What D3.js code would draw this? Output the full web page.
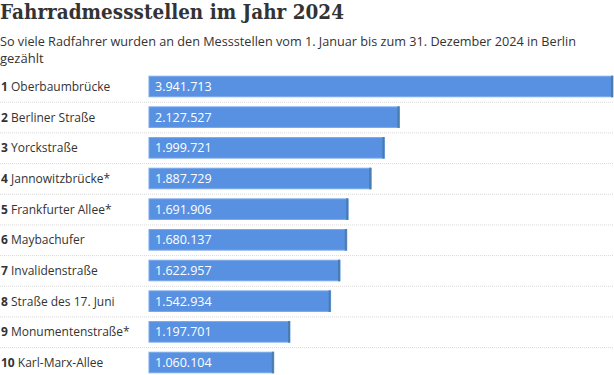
<!DOCTYPE html>
<html lang="de">
<head>
    <meta charset="UTF-8">
    <title>Fahrradmessstellen im Jahr 2024</title>
    <script src="https://d3js.org/d3.v7.min.js"></script>
    <style>
        body {
            margin: 0;
            background: white;
            overflow: hidden;
        }
        svg { display: block; }
    </style>
</head>
<body>
    <div id="chart"></div>
    <script>
        const ranks = [1, 2, 3, 4, 5, 6, 7, 8, 9, 10];
        const stations = [
            "Oberbaumbrücke", "Berliner Straße", "Yorckstraße", "Jannowitzbrücke*",
            "Frankfurter Allee*", "Maybachufer", "Invalidenstraße", "Straße des 17. Juni",
            "Monumentenstraße*", "Karl-Marx-Allee"
        ];
        const counts = [3941713, 2127527, 1999721, 1887729, 1691906, 1680137, 1622957, 1542934, 1197701, 1060104];

        const width = 614, height = 375;
        const barLeft = 149, barRight = 613;

        const svg = d3.select("#chart").append("svg")
            .attr("width", width)
            .attr("height", height);

        // title
        svg.append("text")
            .attr("x", 0)
            .attr("y", 18.5)
            .attr("fill", "#333")
            .style("font-family", "'DejaVu Serif', serif")
            .style("font-weight", "bold")
            .style("font-size", "19.5px")
            .attr("textLength", 344)
            .attr("lengthAdjust", "spacingAndGlyphs")
            .text("Fahrradmessstellen im Jahr 2024");

        const sub = svg.append("text")
            .attr("fill", "#333")
            .style("font-family", "'Open Sans', sans-serif")
            .style("font-size", "13px");
        sub.append("tspan").attr("x", 0).attr("y", 46)
            .text("So viele Radfahrer wurden an den Messstellen vom 1. Januar bis zum 31. Dezember 2024 in Berlin")
            .attr("textLength", 576).attr("lengthAdjust", "spacingAndGlyphs");
        sub.append("tspan").attr("x", 0).attr("y", 63).text("gezählt");

        const x = d3.scaleLinear()
            .domain([0, d3.max(counts)])
            .range([barLeft, barRight]);

        const y = d3.scaleBand()
            .domain(ranks)
            .range([71, 71 + 30.7 * ranks.length])
            .paddingInner(0.33)
            .paddingOuter(0.17);

        const fmt = d3.formatLocale({decimal: ",", thousands: ".", grouping: [3], currency: ["", "€"]}).format(",d");

        const rows = svg.selectAll("g.row")
            .data(ranks.map((r, i) => ({rank: r, name: stations[i], value: counts[i]})))
            .join("g")
            .attr("class", "row");

        // dotted separators
        rows.append("line")
            .attr("x1", 0).attr("x2", width)
            .attr("y1", d => y(d.rank) + y.bandwidth() + 5.5)
            .attr("y2", d => y(d.rank) + y.bandwidth() + 5.5)
            .attr("stroke", "#d8d8d8")
            .attr("stroke-dasharray", "1,1");

        rows.append("rect")
            .attr("x", barLeft)
            .attr("y", d => y(d.rank))
            .attr("width", d => x(d.value) - barLeft)
            .attr("height", y.bandwidth())
            .attr("fill", "#5891e2")
            .attr("stroke", "#79a8ea")
            .attr("stroke-width", 1);

        // darker end cap
        rows.append("rect")
            .attr("x", d => x(d.value) - 2)
            .attr("y", d => y(d.rank) - 0.5)
            .attr("width", 2)
            .attr("height", y.bandwidth() + 1)
            .attr("fill", "#4a7cae");

        const label = rows.append("text")
            .attr("x", 1)
            .attr("y", d => y(d.rank) + y.bandwidth() / 2 + 4.5)
            .attr("fill", "#333")
            .style("font-family", "'Open Sans', sans-serif")
            .style("font-size", "12px");
        label.append("tspan").style("font-weight", "bold").text(d => d.rank + " ");
        label.append("tspan").text(d => d.name);

        rows.append("text")
            .attr("x", barLeft + 6)
            .attr("y", d => y(d.rank) + y.bandwidth() / 2 + 4.5)
            .attr("fill", "white")
            .style("font-family", "'Open Sans', sans-serif")
            .style("font-size", "12.5px")
            .text(d => fmt(d.value));
    </script>
</body>
</html>
